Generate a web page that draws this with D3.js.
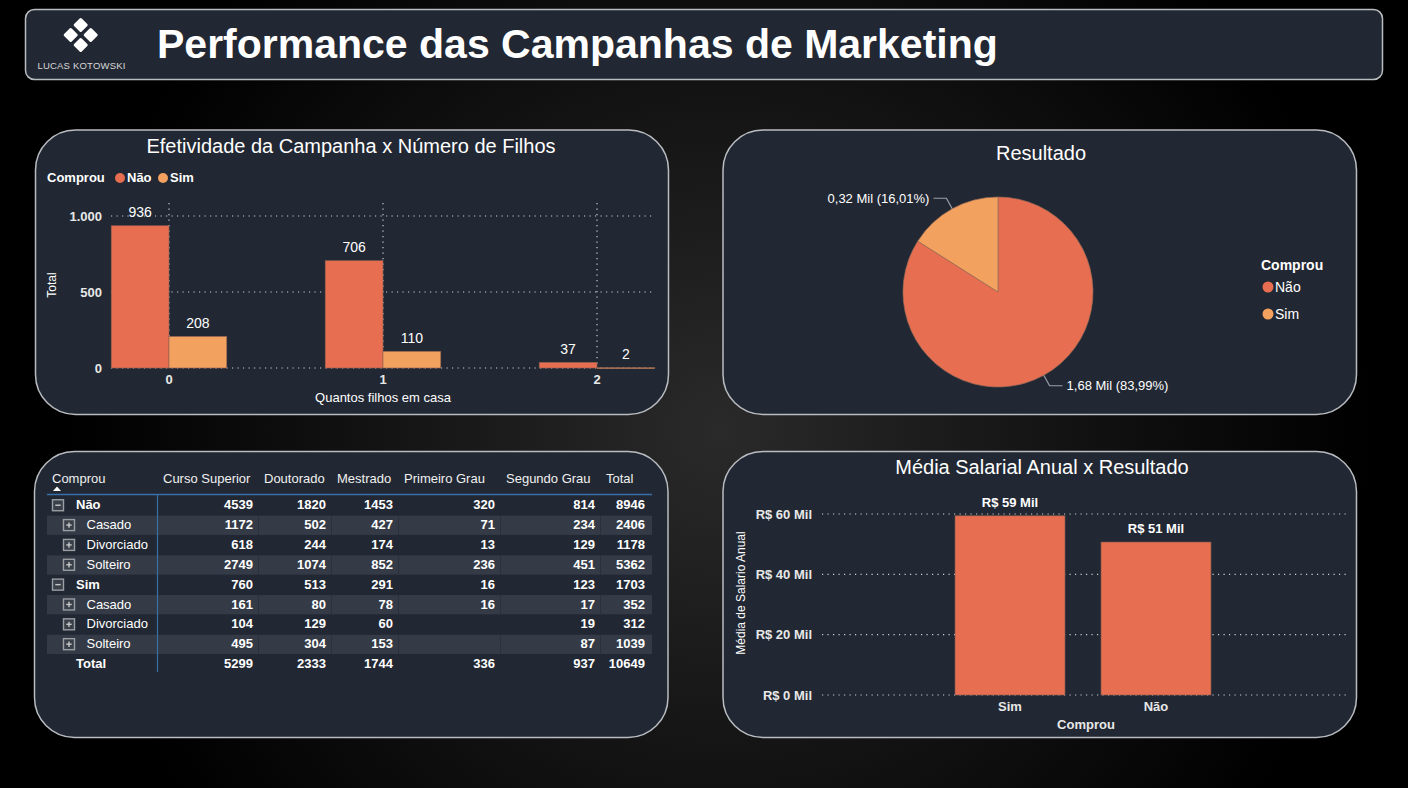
<!DOCTYPE html>
<html><head><meta charset="utf-8">
<script src="https://cdn.jsdelivr.net/npm/d3@7"></script>
<style>
html,body{margin:0;padding:0;background:#000;overflow:hidden}
svg{display:block;font-family:"Liberation Sans",Arial,sans-serif}
</style></head>
<body><svg id="c" width="1408" height="788"></svg>
<script>
// ---------- DATA ----------
const titleText = "Performance das Campanhas de Marketing";
const logoText = "LUCAS KOTOWSKI";

const filhosCats = ["0", "1", "2"];
const seriesNames = ["Não", "Sim"];
const filhosNao = [936, 706, 37];
const filhosSim = [208, 110, 2];
const filhosTicks = [0, 500, 1000];

const pieCats = ["Não", "Sim"];
const pieValues = [1679, 320];

const salarioCats = ["Sim", "Não"];
const salarioValues = [59400, 50700];
const salarioTicks = [0, 20000, 40000, 60000];

const tableColumns = ["Curso Superior", "Doutorado", "Mestrado", "Primeiro Grau", "Segundo Grau", "Total"];
const tableRowLabels = ["Não", "Casado", "Divorciado", "Solteiro", "Sim", "Casado", "Divorciado", "Solteiro", "Total"];
const tableRowLevels = [0, 1, 1, 1, 0, 1, 1, 1, 2];
const tableValues = [
  [4539, 1820, 1453, 320, 814, 8946],
  [1172, 502, 427, 71, 234, 2406],
  [618, 244, 174, 13, 129, 1178],
  [2749, 1074, 852, 236, 451, 5362],
  [760, 513, 291, 16, 123, 1703],
  [161, 80, 78, 16, 17, 352],
  [104, 129, 60, null, 19, 312],
  [495, 304, 153, null, 87, 1039],
  [5299, 2333, 1744, 336, 937, 10649]
];

// ---------- STYLE ----------
const C_NAO = "#E76E50", C_SIM = "#F2A15F";
const PANEL = "#222833", BAND = "#353b46", BORDER = "#b9bcc0";
const GRID = "#c9ccd1";

const svg = d3.select("#c");
const defs = svg.append("defs");
const rg = defs.append("radialGradient").attr("id", "bg")
  .attr("gradientUnits", "userSpaceOnUse").attr("cx", 720).attr("cy", 430).attr("r", 650);
rg.append("stop").attr("offset", "0").attr("stop-color", "#2a2a2a");
rg.append("stop").attr("offset", "0.55").attr("stop-color", "#121212");
rg.append("stop").attr("offset", "1").attr("stop-color", "#000");
svg.append("rect").attr("width", 1408).attr("height", 788).attr("fill", "url(#bg)");

// header
svg.append("rect").attr("x", 25.5).attr("y", 9.5).attr("width", 1357).attr("height", 70)
  .attr("rx", 9).attr("fill", PANEL).attr("stroke", BORDER).attr("stroke-width", 1.5);
const logo = svg.append("g");
[[80.7, 25], [70.7, 35], [90.7, 35], [80.7, 45]].forEach(([cx, cy]) => {
  logo.append("rect").attr("x", -5.4).attr("y", -5.4).attr("width", 10.8).attr("height", 10.8).attr("rx", 1.5)
    .attr("fill", "#fff").attr("transform", `translate(${cx},${cy}) rotate(45)`);
});
logo.append("text").attr("x", 81.5).attr("y", 69).attr("text-anchor", "middle")
  .attr("font-size", 9.5).attr("letter-spacing", 0.2).attr("fill", "#d8d8d8").text(logoText);
svg.append("text").attr("x", 157).attr("y", 58).attr("font-size", 41).attr("font-weight", "bold")
  .attr("fill", "#fff").text(titleText);

function panel(x, y, w, h) {
  svg.append("rect").attr("x", x).attr("y", y).attr("width", w).attr("height", h).attr("rx", 40)
    .attr("fill", PANEL).attr("stroke", BORDER).attr("stroke-width", 1.5);
}
panel(35.5, 130, 633, 284.5);
panel(723, 130, 633.5, 284.5);
panel(34.5, 451.5, 633.5, 286);
panel(723, 451.5, 633.5, 286);

const fmtPt = d3.formatLocale({decimal: ",", thousands: ".", grouping: [3], currency: ["R$ ", ""]});

// ---------- CHART 1 ----------
{
  const g = svg.append("g");
  g.append("text").attr("x", 351).attr("y", 153).attr("text-anchor", "middle").attr("font-size", 20)
    .attr("fill", "#fff").text("Efetividade da Campanha x Número de Filhos");
  // legend
  g.append("text").attr("x", 47).attr("y", 182).attr("font-size", 13).attr("font-weight", "bold")
    .attr("fill", "#fff").text("Comprou");
  const lg = [[120, "Não", C_NAO], [163, "Sim", C_SIM]];
  lg.forEach(([x, t, c]) => {
    g.append("circle").attr("cx", x).attr("cy", 178).attr("r", 5).attr("fill", c);
    g.append("text").attr("x", x + 7).attr("y", 182).attr("font-size", 13).attr("font-weight", "bold")
      .attr("fill", "#fff").text(t);
  });

  const y = d3.scaleLinear().domain([0, 1000]).range([368, 216]);
  const x0 = d3.scaleBand().domain(filhosCats).range([62, 704]).paddingInner(0.46).paddingOuter(0.23);
  const x1 = d3.scaleBand().domain(seriesNames).range([0, x0.bandwidth()]);
  const data = filhosCats.map((c, i) => ({cat: c, vals: [{s: "Não", v: filhosNao[i]}, {s: "Sim", v: filhosSim[i]}]}));

  // grid
  g.selectAll(".hg").data(filhosTicks).join("line")
    .attr("x1", 111).attr("x2", 655).attr("y1", d => y(d)).attr("y2", d => y(d))
    .attr("stroke", GRID).attr("stroke-width", 1.2).attr("stroke-dasharray", "1.2,4.3");
  g.selectAll(".vg").data(filhosCats).join("line")
    .attr("x1", d => x0(d) + x0.bandwidth() / 2).attr("x2", d => x0(d) + x0.bandwidth() / 2)
    .attr("y1", 203).attr("y2", 368)
    .attr("stroke", GRID).attr("stroke-width", 1.2).attr("stroke-dasharray", "1.2,4.3");

  const grp = g.selectAll(".grp").data(data).join("g").attr("transform", d => `translate(${x0(d.cat)},0)`);
  grp.selectAll("rect").data(d => d.vals).join("rect")
    .attr("x", d => x1(d.s)).attr("width", x1.bandwidth())
    .attr("y", d => y(d.v)).attr("height", d => Math.max(1, y(0) - y(d.v)))
    .attr("fill", d => d.s === "Não" ? C_NAO : C_SIM)
    .attr("stroke", "#8c5f50").attr("stroke-width", 0.6);
  grp.selectAll("text").data(d => d.vals).join("text")
    .attr("x", d => x1(d.s) + x1.bandwidth() / 2).attr("y", d => y(d.v) - 8.5)
    .attr("text-anchor", "middle").attr("font-size", 14).attr("fill", "#fff").text(d => d.v);

  const ya = g.append("g").attr("transform", "translate(111,0)")
    .call(d3.axisLeft(y).tickValues(filhosTicks).tickFormat(fmtPt.format(",")).tickSize(0).tickPadding(9));
  ya.select(".domain").remove();
  ya.selectAll("text").attr("font-size", 13).attr("font-weight", "bold").attr("fill", "#e8e8e8")
    .attr("font-family", null);
  const xa = g.append("g").attr("transform", "translate(0,368)")
    .call(d3.axisBottom(x0).tickSize(0).tickPadding(7));
  xa.select(".domain").remove();
  xa.selectAll("text").attr("font-size", 13).attr("font-weight", "bold").attr("fill", "#e8e8e8")
    .attr("font-family", null);
  g.append("text").attr("x", 383).attr("y", 402).attr("text-anchor", "middle").attr("font-size", 13)
    .attr("fill", "#fff").text("Quantos filhos em casa");
  g.append("text").attr("transform", "translate(56,285) rotate(-90)").attr("text-anchor", "middle")
    .attr("font-size", 12).attr("fill", "#fff").text("Total");
}

// ---------- CHART 2 (PIE) ----------
{
  const g = svg.append("g");
  g.append("text").attr("x", 1041).attr("y", 160).attr("text-anchor", "middle").attr("font-size", 20)
    .attr("fill", "#fff").text("Resultado");
  const cx = 998, cy = 292, R = 95;
  const total = d3.sum(pieValues);
  const arcs = d3.pie().sort(null)(pieValues).map((a, i) => Object.assign(a, {cat: pieCats[i]}));
  const arc = d3.arc().innerRadius(0).outerRadius(R);
  const pg = g.append("g").attr("transform", `translate(${cx},${cy})`);
  pg.selectAll("path").data(arcs).join("path").attr("d", arc)
    .attr("fill", d => d.cat === "Não" ? C_NAO : C_SIM).attr("stroke", "#9b6b58").attr("stroke-width", 0.7);
  const fmt2 = fmtPt.format(",.2f");
  arcs.forEach(a => {
    const m = (a.startAngle + a.endAngle) / 2;
    const p1 = [R * Math.sin(m), -R * Math.cos(m)];
    const p2 = [107 * Math.sin(m), -107 * Math.cos(m)];
    const dir = Math.sin(m) >= 0 ? 1 : -1;
    const p3 = [p2[0] + dir * 13, p2[1]];
    pg.append("polyline").attr("points", [p1, p2, p3].map(p => p.join(",")).join(" "))
      .attr("fill", "none").attr("stroke", "#9aa0a8").attr("stroke-width", 1.2);
    pg.append("text").attr("x", p3[0] + dir * 4).attr("y", p3[1]).attr("dy", "0.35em")
      .attr("text-anchor", dir > 0 ? "start" : "end").attr("font-size", 13).attr("fill", "#fff")
      .text(`${fmt2(a.data / 1000)} Mil (${fmt2(a.data / total * 100)}%)`);
  });
  g.append("text").attr("x", 1261).attr("y", 270).attr("font-size", 14).attr("font-weight", "bold")
    .attr("fill", "#fff").text("Comprou");
  pieCats.forEach((c, i) => {
    const yy = 287 + i * 27;
    g.append("circle").attr("cx", 1268).attr("cy", yy).attr("r", 5.5).attr("fill", c === "Não" ? C_NAO : C_SIM);
    g.append("text").attr("x", 1275).attr("y", yy + 5).attr("font-size", 14).attr("fill", "#fff").text(c);
  });
}

// ---------- CHART 4 (SALARY) ----------
{
  const g = svg.append("g");
  g.append("text").attr("x", 1042).attr("y", 474).attr("text-anchor", "middle").attr("font-size", 20)
    .attr("fill", "#fff").text("Média Salarial Anual x Resultado");
  const y = d3.scaleLinear().domain([0, 60000]).range([695, 514]);
  const x = d3.scaleBand().domain(salarioCats).range([937, 1229]).paddingInner(0.247).paddingOuter(0.1235);
  const fmtMil = v => "R$ " + fmtPt.format(",.0f")(v / 1000) + " Mil";
  g.selectAll(".hg").data(salarioTicks).join("line")
    .attr("x1", 822).attr("x2", 1347).attr("y1", d => y(d)).attr("y2", d => y(d))
    .attr("stroke", GRID).attr("stroke-width", 1.2).attr("stroke-dasharray", "1.2,4.3");
  const data = salarioCats.map((c, i) => ({c, v: salarioValues[i]}));
  g.selectAll(".bar").data(data).join("rect")
    .attr("x", d => x(d.c)).attr("width", x.bandwidth()).attr("y", d => y(d.v)).attr("height", d => y(0) - y(d.v))
    .attr("fill", C_NAO).attr("stroke", "#8c5f50").attr("stroke-width", 0.6);
  g.selectAll(".lbl").data(data).join("text")
    .attr("x", d => x(d.c) + x.bandwidth() / 2).attr("y", d => y(d.v) - 9)
    .attr("text-anchor", "middle").attr("font-size", 13).attr("font-weight", "bold").attr("fill", "#fff")
    .text(d => fmtMil(d.v));
  const ya = g.append("g").attr("transform", "translate(822,0)")
    .call(d3.axisLeft(y).tickValues(salarioTicks).tickFormat(fmtMil).tickSize(0).tickPadding(10));
  ya.select(".domain").remove();
  ya.selectAll("text").attr("font-size", 13).attr("font-weight", "bold").attr("fill", "#e8e8e8").attr("font-family", null);
  const xa = g.append("g").attr("transform", "translate(0,695)").call(d3.axisBottom(x).tickSize(0).tickPadding(7));
  xa.select(".domain").remove();
  xa.selectAll("text").attr("font-size", 13).attr("font-weight", "bold").attr("fill", "#e8e8e8").attr("font-family", null);
  g.append("text").attr("x", 1086).attr("y", 729).attr("text-anchor", "middle").attr("font-size", 13)
    .attr("font-weight", "bold").attr("fill", "#e8e8e8").text("Comprou");
  g.append("text").attr("transform", "translate(745,593) rotate(-90)").attr("text-anchor", "middle")
    .attr("font-size", 12).attr("fill", "#fff").text("Média de Salario Anual");
}

// ---------- TABLE ----------
{
  const g = svg.append("g");
  const colEdges = [157, 258, 331, 398, 500, 600, 650];
  const rowY = d3.scaleBand().domain(d3.range(tableRowLabels.length)).range([495.8, 495.8 + 19.85 * 9]);
  const bw = rowY.bandwidth();
  // bands
  tableRowLabels.forEach((l, i) => {
    if (i % 2 === 1) {
      g.append("rect").attr("x", 47).attr("y", rowY(i)).attr("width", 605).attr("height", bw - 0.6).attr("fill", BAND);
      colEdges.slice(1, 6).forEach(xe => g.append("line").attr("x1", xe + 0.5).attr("x2", xe + 0.5)
        .attr("y1", rowY(i)).attr("y2", rowY(i) + bw - 0.6).attr("stroke", "#2b313c").attr("stroke-width", 1));
    }
  });
  // header
  g.append("text").attr("x", 52).attr("y", 478).attr("dy", "0.35em").attr("font-size", 13).attr("fill", "#f0f0f0").text("Comprou");
  g.append("path").attr("d", "M53,491 L61,491 L57,486.5 Z").attr("fill", "#fff");
  tableColumns.forEach((c, j) => {
    g.append("text").attr("x", colEdges[j] + 6).attr("y", 478).attr("dy", "0.35em").attr("font-size", 13)
      .attr("fill", "#f0f0f0").text(c);
  });
  g.append("line").attr("x1", 47).attr("x2", 652).attr("y1", 494.5).attr("y2", 494.5)
    .attr("stroke", "#3b6ea6").attr("stroke-width", 1.5);
  g.append("line").attr("x1", 157.5).attr("x2", 157.5).attr("y1", 494.5).attr("y2", 672)
    .attr("stroke", "#3b6ea6").attr("stroke-width", 1.2);
  // rows
  tableRowLabels.forEach((l, i) => {
    const lvl = tableRowLevels[i];
    const cy = rowY(i) + bw / 2 - 1;
    if (lvl < 2) {
      const bx = lvl === 0 ? 52.5 : 63.5;
      g.append("rect").attr("x", bx).attr("y", cy - 5).attr("width", 11).attr("height", 11)
        .attr("fill", "#3a404a").attr("stroke", "#9b9ea3").attr("stroke-width", 1.4);
      g.append("line").attr("x1", bx + 2.8).attr("x2", bx + 8.2).attr("y1", cy + 0.5).attr("y2", cy + 0.5)
        .attr("stroke", "#c8c8c8").attr("stroke-width", 1.4);
      if (lvl === 1) g.append("line").attr("x1", bx + 5.5).attr("x2", bx + 5.5).attr("y1", cy - 2.2).attr("y2", cy + 3.2)
        .attr("stroke", "#c8c8c8").attr("stroke-width", 1.4);
    }
    g.append("text").attr("x", lvl === 1 ? 86.5 : 76).attr("y", cy).attr("dy", "0.35em").attr("font-size", 13)
      .attr("font-weight", lvl === 1 ? "normal" : "bold").attr("fill", "#fff").text(l);
    tableValues[i].forEach((v, j) => {
      if (v === null) return;
      g.append("text").attr("x", colEdges[j + 1] - 5).attr("y", cy).attr("dy", "0.35em").attr("text-anchor", "end")
        .attr("font-size", 13).attr("font-weight", "bold").attr("fill", "#fff").text(v);
    });
  });
}
</script></body></html>
